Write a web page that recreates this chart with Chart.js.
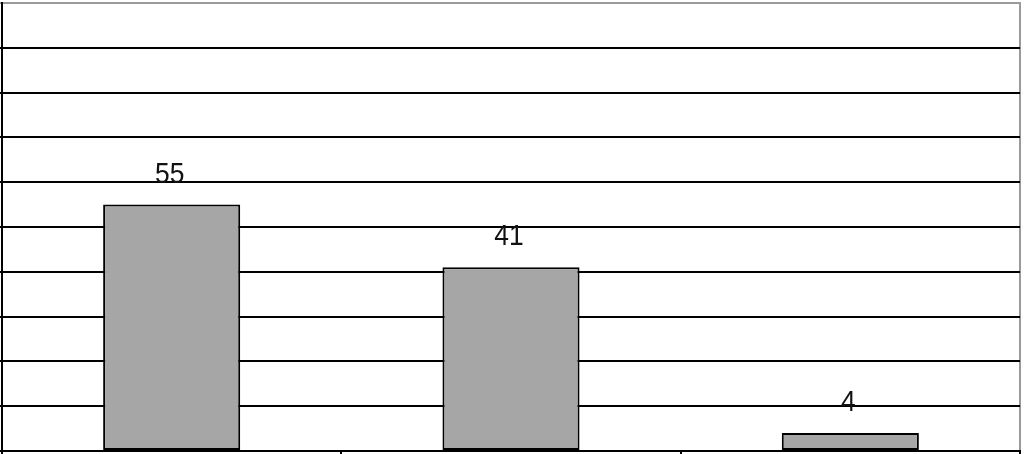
<!DOCTYPE html>
<html>
<head>
<meta charset="utf-8">
<script src="https://cdn.jsdelivr.net/npm/chart.js@4/dist/chart.umd.min.js"></script>
<style>
    html, body { margin: 0; padding: 0; background: #fff; }
    #wrap { width: 1024px; height: 454px; }
</style>
</head>
<body>
<div id="wrap"><canvas id="barChart"></canvas></div>
<script>
const categories = ['A', 'B', 'C'];
const values = [55, 41, 4];
const yTicks = [0, 10, 20, 30, 40, 50, 60, 70, 80, 90, 100];

// gray frame on top and right of the plot area
const frame = {
    id: 'frame',
    beforeDraw(chart) {
        const a = chart.chartArea;
        const ctx = chart.ctx;
        ctx.save();
        ctx.strokeStyle = '#9a9a9a';
        ctx.lineWidth = 2;
        ctx.strokeRect(a.left, a.top, a.right - a.left, a.bottom - a.top);
        ctx.restore();
    }
};

// value labels above each bar, slightly condensed like the original
const barLabels = {
    id: 'barLabels',
    afterDatasetsDraw(chart) {
        const ctx = chart.ctx;
        const meta = chart.getDatasetMeta(0);
        meta.data.forEach((bar, i) => {
            ctx.save();
            ctx.translate(bar.x - 2, bar.y - 22);
            ctx.scale(0.88, 1);
            ctx.fillStyle = '#111';
            ctx.font = '30px "Liberation Sans", Arial, sans-serif';
            ctx.textAlign = 'center';
            ctx.textBaseline = 'alphabetic';
            ctx.fillText(String(values[i]), 0, 0);
            ctx.restore();
        });
    }
};

const ctx = document.getElementById('barChart').getContext('2d');
const chart = new Chart(ctx, {
    type: 'bar',
    data: {
        labels: categories,
        datasets: [{
            data: values,
            backgroundColor: '#a6a6a6',
            borderColor: '#000',
            borderWidth: 2,
            borderSkipped: false,
            barPercentage: 0.404,
            categoryPercentage: 1
        }]
    },
    options: {
        responsive: true,
        maintainAspectRatio: false,
        animation: false,
        devicePixelRatio: 1,
        layout: { padding: { left: 0, top: 3, right: 4, bottom: 0 } },
        plugins: {
            legend: { display: false },
            tooltip: { enabled: false }
        },
        scales: {
            x: {
                ticks: { display: false },
                grid: {
                    drawOnChartArea: false,
                    drawTicks: true,
                    tickLength: 3,
                    color: '#000',
                    lineWidth: 2
                },
                border: { color: '#000', width: 2 }
            },
            y: {
                min: yTicks[0],
                max: yTicks[yTicks.length - 1],
                afterBuildTicks(axis) {
                    axis.ticks = yTicks.map(v => ({ value: v }));
                },
                ticks: { display: false },
                grid: {
                    color: c => (c.tick && c.tick.value === yTicks[yTicks.length - 1]) ? '#9a9a9a' : '#000',
                    lineWidth: 2,
                    drawTicks: true,
                    tickLength: 2
                },
                border: { color: '#000', width: 2 }
            }
        }
    },
    plugins: [frame, barLabels]
});
</script>
</body>
</html>
